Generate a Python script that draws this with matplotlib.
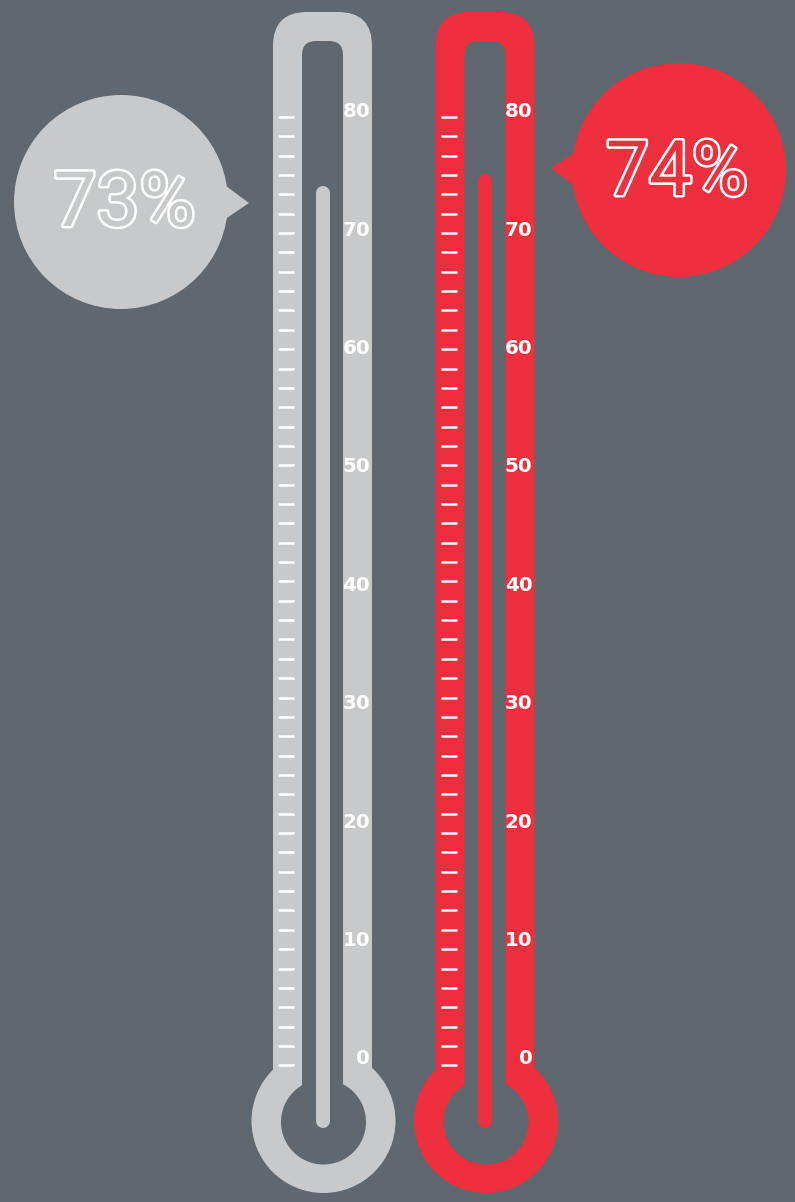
import numpy as np
import matplotlib.pyplot as plt
from matplotlib.patches import FancyBboxPatch, Circle, Polygon
import matplotlib.patheffects as pe

# scale and readings
scale_labels = [0, 10, 20, 30, 40, 50, 60, 70, 80]
readings = [73, 74]
reading_text = ['73%', '74%']
tube_colors = ['#c8c9cb', '#ee2f3e']
bg = '#5e686e'

W, H = 795, 1202
PX = 11.84    # pixels per degree
ZERO = 1057   # pixel row of the 0 mark


def u(p):
    return p / PX


def row(p):
    return (ZERO - p) / PX


fig = plt.figure(figsize=(W / 100, H / 100), dpi=100)
fig.patch.set_facecolor(bg)
ax = fig.add_axes([0, 0, 1, 1])
ax.set_facecolor(bg)
ax.set_xlim(0, u(W))
ax.set_ylim(row(H), row(0))
ax.axis('off')

centers = [322.5, 485]
bulb_y = 1121
minor = np.linspace(-0.7, 79.4, 50)

for cx, col, val in zip(centers, tube_colors, readings):
    # glass: outer shell then hollow
    ax.add_patch(FancyBboxPatch((u(cx - 49.5), row(bulb_y)), u(99), row(12) - row(bulb_y),
                                boxstyle=f"round,pad=0,rounding_size={u(34)}",
                                fc=col, ec='none'))
    ax.add_patch(Circle((u(cx + 1), row(bulb_y)), u(72), fc=col, ec='none'))
    ax.add_patch(FancyBboxPatch((u(cx - 20.5), row(bulb_y)), u(41), row(41) - row(bulb_y),
                                boxstyle=f"round,pad=0,rounding_size={u(14)}",
                                fc=bg, ec='none'))
    ax.add_patch(Circle((u(cx + 1), row(bulb_y + 1)), u(42.5), fc=bg, ec='none'))

    # mercury column
    ax.plot([u(cx), u(cx)], [row(bulb_y), val], color=col, lw=10.1,
            solid_capstyle='round')

    # scale
    ax.hlines(minor, u(cx - 44.5), u(cx - 28.5), color='white', lw=1.8)
    for v in scale_labels:
        ax.text(u(cx + 47.5), v, str(v), ha='right', va='center_baseline',
                color='white', fontsize=14.3, fontweight='bold',
                family='DejaVu Sans')

# callout bubbles
bubbles = [((121, 202), (249, 203), (124.5, 226)),
           ((679, 170), (551, 168), (677, 195))]
for (c, tip, txt), col, label in zip(bubbles, tube_colors, reading_text):
    r = 107
    side = 1 if tip[0] > c[0] else -1
    ang = np.radians(12)
    base = [(c[0] + side * r * np.cos(a), c[1] + r * np.sin(a)) for a in (-ang, ang)]
    ax.add_patch(Circle((u(c[0]), row(c[1])), u(r), fc=col, ec='none'))
    ax.add_patch(Polygon([(u(base[0][0] - side * 8), row(base[0][1])),
                          (u(tip[0]), row(tip[1])),
                          (u(base[1][0] - side * 8), row(base[1][1]))],
                         closed=True, fc=col, ec='none'))
    ax.text(u(txt[0]), row(txt[1]), label, ha='center', va='baseline',
            color=col, fontsize=55, family='Roboto',
            path_effects=[pe.withStroke(linewidth=3.6, foreground='white')])

fig.savefig('out.png', dpi=100, facecolor=bg)
